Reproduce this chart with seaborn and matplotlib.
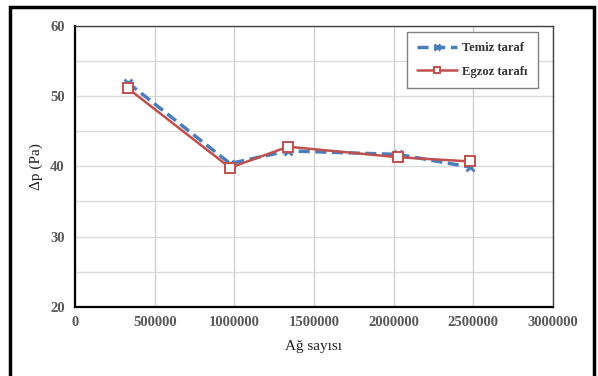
import matplotlib
matplotlib.use("Agg")
import matplotlib.pyplot as plt
from matplotlib.patches import Rectangle
from matplotlib.ticker import MultipleLocator
import seaborn as sns
import pandas as pd

# Mesh counts and pressure drops
ag_sayisi = [333000, 973000, 1337000, 2027000, 2479000]
temiz_taraf = [51.9, 40.4, 42.2, 41.7, 39.9]
egzoz_tarafi = [51.1, 39.8, 42.8, 41.3, 40.7]
series_names = ["Temiz taraf", "Egzoz tarafı"]

df = pd.DataFrame({
    "Ağ sayısı": ag_sayisi * 2,
    "dp": temiz_taraf + egzoz_tarafi,
    "seri": [series_names[0]] * len(ag_sayisi) + [series_names[1]] * len(ag_sayisi),
})

sns.set_theme(style="white")
plt.rcParams["font.family"] = ["Liberation Serif", "DejaVu Serif"]

fig = plt.figure(figsize=(5.98, 3.76), dpi=100)
ax = fig.add_axes([0.1254, 0.1843, 0.7993, 0.7466])

blue = "#4a7ebb"
red = "#c0504d"

sns.lineplot(data=df[df.seri == series_names[0]], x="Ağ sayısı", y="dp", ax=ax,
             color=blue, linewidth=2.5, linestyle=(0, (3.2, 1.6)),
             marker="x", markersize=6, markeredgewidth=2.0, markeredgecolor=blue,
             label=series_names[0])
sns.lineplot(data=df[df.seri == series_names[1]], x="Ağ sayısı", y="dp", ax=ax,
             color=red, linewidth=1.8,
             marker="s", markersize=6.5, markerfacecolor="white", markeredgewidth=1.4,
             markeredgecolor=red, label=series_names[1])

ax.set_xlim(0, 3000000)
ax.set_ylim(20, 60)
ax.xaxis.set_major_locator(MultipleLocator(500000))
ax.yaxis.set_major_locator(MultipleLocator(10))
ax.yaxis.set_minor_locator(MultipleLocator(5))
ax.ticklabel_format(axis="x", style="plain", useOffset=False)

ax.grid(True, which="both", axis="y", color="#dadada", linewidth=1.0)
ax.grid(True, which="major", axis="x", color="#cfcfcf", linewidth=1.0)
ax.set_axisbelow(True)

for side in ["left", "bottom"]:
    ax.spines[side].set_color("black")
    ax.spines[side].set_linewidth(1.6)
for side in ["top", "right"]:
    ax.spines[side].set_color("#404040")
    ax.spines[side].set_linewidth(1.0)

ax.tick_params(axis="both", which="both", direction="inout", length=7, width=1.2,
               color="black", labelsize=10.5, labelcolor="#595959")
ax.tick_params(axis="y", which="major", pad=4)
ax.tick_params(axis="x", which="major", pad=3)
ax.tick_params(axis="x", which="minor", length=0)
for lab in ax.get_xticklabels() + ax.get_yticklabels():
    lab.set_fontweight("bold")

ax.set_xlabel("Ağ sayısı", fontsize=11, color="#222222", labelpad=8)
ax.set_ylabel("Δp (Pa)", fontsize=11, color="#222222", labelpad=5)

leg = ax.legend(loc="upper right", bbox_to_anchor=(0.9686, 0.9786), borderaxespad=0,
                fontsize=9, frameon=True, fancybox=False, edgecolor="#808080",
                framealpha=1, handlelength=3.2, handletextpad=0.4, borderpad=0.8,
                labelspacing=0.95, markerscale=0.7)
leg.get_frame().set_linewidth(1.0)
for t in leg.get_texts():
    t.set_fontweight("bold")
    t.set_color("#333333")

# Outer frame around the whole chart
fig.patches.append(Rectangle((10 / 598, -0.05), 584 / 598, 1.05 - 7 / 376,
                             transform=fig.transFigure, fill=False,
                             edgecolor="black", linewidth=2.5))

fig.savefig("out.png", dpi=100)
